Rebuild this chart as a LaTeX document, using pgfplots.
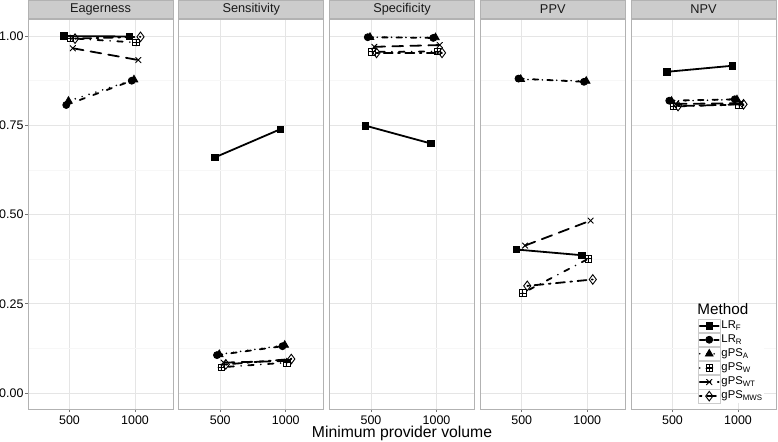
\documentclass[border=0pt]{standalone}
\usepackage{fontspec}
\setmainfont{Liberation Sans}
\usepackage{pgfplots}
\pgfplotsset{compat=1.18}

\definecolor{pborder}{gray}{0.70}
\definecolor{stripbg}{gray}{0.80}
\definecolor{gridmaj}{gray}{0.90}
\definecolor{gridmin}{gray}{0.97}
\definecolor{tickc}{gray}{0.45}

\pgfdeclareplotmark{boxplus}{%
  \pgfpathrectangle{\pgfqpoint{-\pgfplotmarksize}{-\pgfplotmarksize}}{\pgfqpoint{2\pgfplotmarksize}{2\pgfplotmarksize}}%
  \pgfpathmoveto{\pgfqpoint{-\pgfplotmarksize}{0pt}}%
  \pgfpathlineto{\pgfqpoint{\pgfplotmarksize}{0pt}}%
  \pgfpathmoveto{\pgfqpoint{0pt}{-\pgfplotmarksize}}%
  \pgfpathlineto{\pgfqpoint{0pt}{\pgfplotmarksize}}%
  \pgfusepathqstroke}

\pgfplotsset{
  panel/.style 2 args={
    at={(#1,33bp)}, anchor=south west, scale only axis,
    width=145bp, height=390bp,
    xmin=183, xmax=1290, ymin=-0.045, ymax=1.048,
    xtick={500,1000}, xticklabels={500,1000},
    ytick={0,0.25,0.5,0.75,1}, yticklabels={0.00,0.25,0.50,0.75,1.00},
    minor ytick={0.125,0.375,0.625,0.875},
    grid=both,
    major grid style={gridmaj, line width=0.6bp},
    minor grid style={gridmin, line width=0.5bp},
    axis line style={pborder, line width=0.8bp},
    tick align=outside, tick pos=left,
    major tick length=3bp, minor tick length=0pt,
    tick style={tickc, line width=0.6bp},
    ticklabel style={font=\fontsize{12.5}{12.5}\selectfont, text=black},
    yticklabel style={xshift=2bp},
    /pgf/number format/assume math mode=true,
    extra description/.code={%
      \node[fill=stripbg, draw=pborder, line width=0.8bp,
        minimum width=145bp, minimum height=18.5bp, inner sep=0pt,
        anchor=south, font=\fontsize{12.8}{12.8}\selectfont, text=black!90]
        at (0.5,1) {#2};},
    every axis plot/.append style={line width=1.8bp, line cap=round, black},
  },
  inner/.style={yticklabels={}, ytick style={draw=none}},
  sLRF/.style={solid, mark=square*, mark size=3.3bp, mark options={solid, line width=0.8bp}},
  sLRR/.style={dash pattern=on 5.4bp off 9bp, mark=*, mark size=3.5bp, mark options={solid, line width=0.8bp}},
  sA/.style={dash pattern=on 0bp off 7.2bp, mark=triangle*, mark size=4.4bp, mark options={solid, line width=0.8bp}},
  sW/.style={dash pattern=on 0bp off 7.2bp on 5.4bp off 7.2bp, mark=boxplus, mark size=3.3bp, mark options={solid, line width=0.8bp}},
  sWT/.style={dash pattern=on 10.8bp off 7.2bp, mark=x, mark size=3.8bp, mark options={solid, line width=0.9bp}},
  sMWS/.style={dash pattern=on 1.8bp off 5.4bp on 9bp off 5.4bp, mark=diamond, mark size=4.8bp, mark options={solid, line width=0.9bp}},
}

\begin{document}
\begin{tikzpicture}
\useasboundingbox (0,0) rectangle (778bp,442bp);

% Eagerness
\begin{axis}[panel={28bp}{Eagerness}]
\addplot[sLRF] coordinates {(458,1.000) (958,0.999)};
\addplot[sLRR] coordinates {(475,0.807) (975,0.875)};
\addplot[sA]   coordinates {(492,0.818) (992,0.878)};
\addplot[sW]   coordinates {(508,0.994) (1008,0.982)};
\addplot[sWT]  coordinates {(525,0.966) (1025,0.933)};
\addplot[sMWS] coordinates {(542,0.993) (1042,0.998)};
\end{axis}

% Sensitivity
\begin{axis}[panel={178.75bp}{Sensitivity}, inner]
\addplot[sLRF] coordinates {(458,0.660) (958,0.739)};
\addplot[sLRR] coordinates {(475,0.106) (975,0.131)};
\addplot[sA]   coordinates {(492,0.108) (992,0.134)};
\addplot[sW]   coordinates {(508,0.072) (1008,0.085)};
\addplot[sWT]  coordinates {(525,0.085) (1025,0.090)};
\addplot[sMWS] coordinates {(542,0.080) (1042,0.095)};
\end{axis}

% Specificity
\begin{axis}[panel={329.5bp}{Specificity}, inner,
  xlabel={Minimum provider volume},
  xlabel style={at={(axis description cs:0.5,0)}, anchor=base, yshift=-29bp,
    font=\fontsize{15.8}{15.8}\selectfont, text=black}]
\addplot[sLRF] coordinates {(458,0.749) (958,0.699)};
\addplot[sLRR] coordinates {(475,0.997) (975,0.995)};
\addplot[sA]   coordinates {(492,0.997) (992,0.996)};
\addplot[sW]   coordinates {(508,0.956) (1008,0.957)};
\addplot[sWT]  coordinates {(525,0.970) (1025,0.975)};
\addplot[sMWS] coordinates {(542,0.953) (1042,0.953)};
\end{axis}

% PPV
\begin{axis}[panel={480.25bp}{PPV}, inner]
\addplot[sLRF] coordinates {(458,0.402) (958,0.386)};
\addplot[sLRR] coordinates {(475,0.881) (975,0.872)};
\addplot[sA]   coordinates {(492,0.879) (992,0.874)};
\addplot[sW]   coordinates {(508,0.280) (1008,0.376)};
\addplot[sWT]  coordinates {(525,0.413) (1025,0.483)};
\addplot[sMWS] coordinates {(542,0.300) (1042,0.318)};
\end{axis}

% NPV
\begin{axis}[panel={631bp}{NPV}, inner,
  legend cell align=left,
  legend style={at={(0.462,0.2667)}, anchor=north west, fill=white, draw=none,
    inner sep=0pt, outer sep=0pt, row sep=0pt,
    font=\fontsize{11.3}{11.3}\selectfont,
    nodes={inner ysep=0pt, inner xsep=1bp, text height=9.5bp, text depth=4.1bp}},
  legend image code/.code={%
    \draw[stripbg, line width=0.5bp, solid, fill=white] (0bp,-6.8bp) rectangle (22bp,6.8bp);
    \draw[mark repeat=2, mark phase=2, #1] plot coordinates {(1.5bp,0bp) (11bp,0bp) (20.5bp,0bp)};
  }]
\addlegendimage{empty legend}
\addlegendentry{\hspace{-24bp}\fontsize{15.3}{15.3}\selectfont Method}
\addplot[sLRF] coordinates {(458,0.900) (958,0.917)};
\addlegendentry{LR\textsubscript{F}}
\addplot[sLRR] coordinates {(475,0.819) (975,0.823)};
\addlegendentry{LR\textsubscript{R}}
\addplot[sA]   coordinates {(492,0.818) (992,0.822)};
\addlegendentry{gPS\textsubscript{A}}
\addplot[sW]   coordinates {(508,0.803) (1008,0.808)};
\addlegendentry{gPS\textsubscript{W}}
\addplot[sWT]  coordinates {(525,0.810) (1025,0.812)};
\addlegendentry{gPS\textsubscript{WT}}
\addplot[sMWS] coordinates {(542,0.804) (1042,0.809)};
\addlegendentry{gPS\textsubscript{MWS}}
\end{axis}
\end{tikzpicture}
\end{document}
